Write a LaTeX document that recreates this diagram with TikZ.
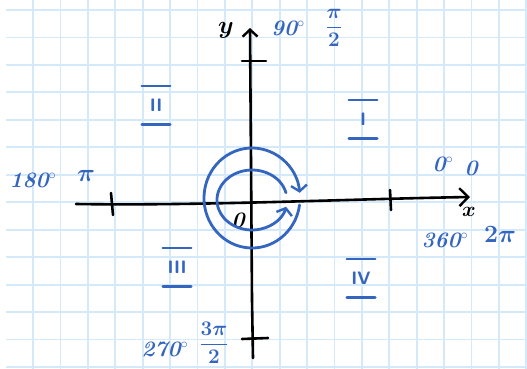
\documentclass[tikz,border=0pt]{standalone}
\usepackage{amsmath}
\usetikzlibrary{arrows.meta}
\definecolor{pen}{RGB}{52,102,192}
\definecolor{gridc}{RGB}{212,234,250}
\begin{document}
\begin{tikzpicture}[x=1pt,y=-1pt,
  axis/.style={line width=2.6pt, black, line cap=round, line join=round},
  penline/.style={line width=2.8pt, pen, line cap=round, line join=round},
  blab/.style={text=pen, font=\fontsize{22}{22}\selectfont\bfseries\itshape, inner sep=0pt},
  bfrac/.style={text=pen, font=\fontsize{20}{20}\selectfont\bfseries, inner sep=0pt},
  bpi/.style={text=pen, font=\fontsize{28}{28}\selectfont\bfseries, inner sep=0pt},
  klab/.style={text=black, font=\fontsize{24}{24}\selectfont\bfseries, inner sep=0pt},
  quadrant/.style={text=pen, font=\fontsize{18}{18}\selectfont\sffamily\bfseries, minimum width=28pt, minimum height=38pt, inner sep=0pt},
  bar/.style={line width=2.6pt, pen, line cap=round},
  gridline/.style={gridc, line width=1.8pt}]
\useasboundingbox (0,0) rectangle (527,369);
\fill[white] (0,0) rectangle (527,369);
% grid paper
\foreach \k in {0,...,18} \draw[gridline] ({33+27.4*\k},0) -- ({33+27.4*\k},369);
\foreach \k in {0,...,13} \draw[gridline] (6,{10+27.46*\k}) -- (527,{10+27.46*\k});
% axes
\coordinate (xl) at (76,204);
\coordinate (xr) at (470,197);
\coordinate (yb) at (253,358);
\coordinate (yt) at (250,28);
\draw[axis, -{Straight Barb[length=9pt,width=18pt,line width=2.4pt]}] (xl) .. controls (200,206) and (350,199) .. (xr);
\draw[axis, -{Straight Barb[length=7pt,width=15pt,line width=2.4pt]}] (yb) -- (252,300) -- (yt);
% ticks
\coordinate (tla) at (111,193); \coordinate (tlb) at (113,215);
\coordinate (tra) at (390,190); \coordinate (trb) at (391,210);
\coordinate (tta) at (242,61);  \coordinate (ttb) at (266,61);
\coordinate (tba) at (242,339); \coordinate (tbb) at (268,338);
\draw[axis] (tla) -- (tlb);
\draw[axis] (tra) -- (trb);
\draw[axis] (tta) -- (ttb);
\draw[axis] (tba) -- (tbb);
% black labels
\node[klab] (ylab) at (226,30) {$\boldsymbol{y}$};
\node[klab, font=\fontsize{20}{20}\selectfont] (xlab) at (469,212) {$\boldsymbol{x}$};
\node[klab, font=\fontsize{22}{22}\selectfont\bfseries\itshape] (olab) at (238,220) {0};
% blue labels
\node[blab] (a90) at (288,28) {90$^\circ$};
\node[bfrac] (p2) at (334,28) {$\dfrac{\boldsymbol{\pi}}{\mathbf{2}}$};
\node[blab] (a180) at (33,180) {180$^\circ$};
\node[bpi] (pi1) at (86,176) {$\boldsymbol{\pi}$};
\node[blab] (a0) at (443,164) {0$^\circ$};
\node[blab] (z0) at (471,168) {0};
\node[blab] (a360) at (445,240) {360$^\circ$};
\node[bpi] (tpi) at (500,234) {$\mathbf{2}\boldsymbol{\pi}$};
\node[blab] (a270) at (165,349) {270$^\circ$};
\node[bfrac] (tp2) at (214,343) {$\dfrac{\mathbf{3}\boldsymbol{\pi}}{\mathbf{2}}$};
% quadrants
\node[quadrant] (q1) at (363,119) {I};
\node[quadrant] (q2) at (156,105) {II};
\node[quadrant] (q3) at (177,267) {III};
\node[quadrant] (q4) at (361,278) {IV};
\foreach \q in {q1,q2,q3,q4} {
  \draw[bar] (\q.north west) -- (\q.north east);
  \draw[bar] (\q.south west) -- (\q.south east);
}
% rotation loops
\coordinate (co) at (252,198);
\coordinate (ci) at (252,200);
\draw[penline, -{Straight Barb[length=6pt,width=16pt,line width=2.4pt]}]
  ([shift={(8:48 and 50)}]co) arc[start angle=8, end angle=354, x radius=48, y radius=50];
\draw[penline, -{Straight Barb[length=6pt,width=16pt,line width=2.4pt]}]
  ([shift={(-14:35 and 30)}]ci) arc[start angle=-14, end angle=-347, x radius=35, y radius=30];
\end{tikzpicture}
\end{document}
